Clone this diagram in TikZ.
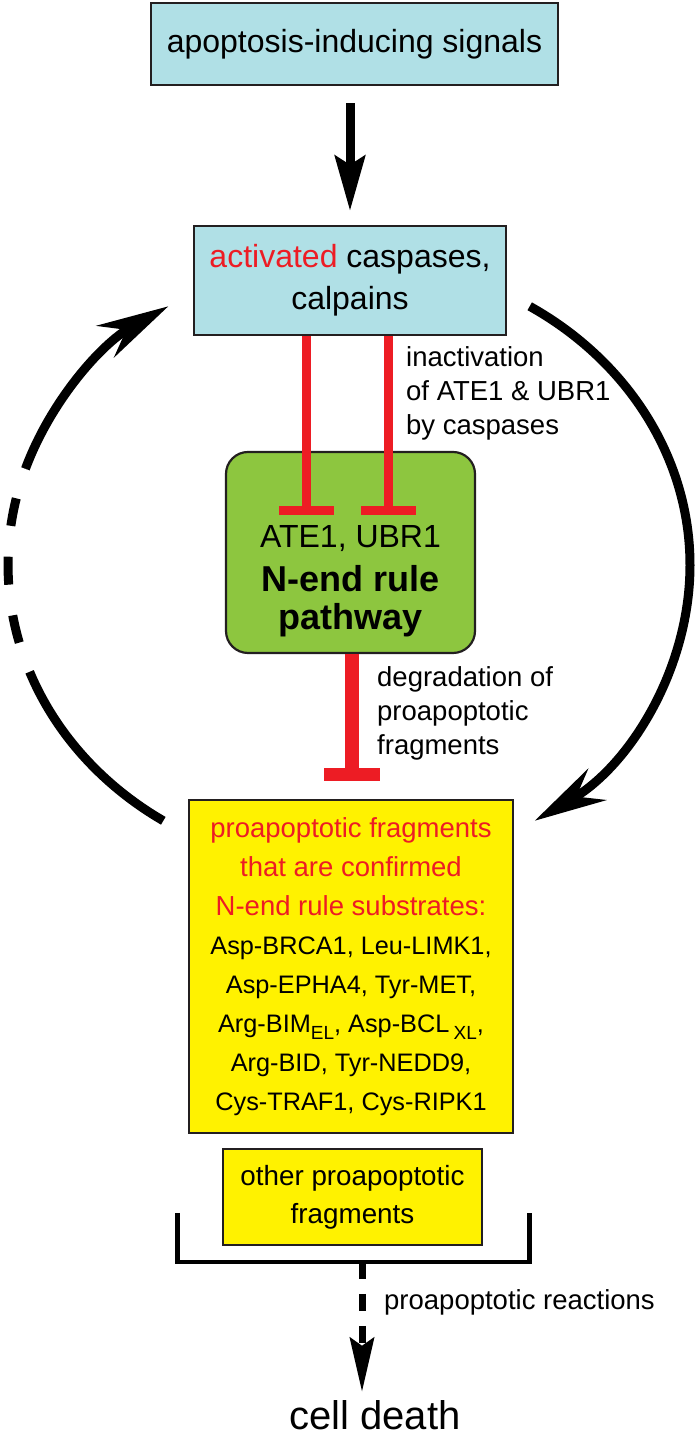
\documentclass[tikz,border=0pt]{standalone}
\usepackage{fontspec}
\setmainfont{Liberation Sans}
\usetikzlibrary{arrows.meta}

\definecolor{boxblue}{RGB}{176,224,230}
\definecolor{nendgreen}{RGB}{141,198,63}
\definecolor{fragyellow}{RGB}{255,242,0}
\definecolor{inhibred}{RGB}{237,28,36}
\definecolor{edgegray}{RGB}{35,31,32}

\newcommand{\boxtxt}{\fontsize{32}{42}\selectfont}
\newcommand{\labtxt}{\fontsize{27.5}{34}\selectfont}
\newcommand{\listtxt}{\fontsize{25.3}{39}\selectfont}
\newcommand{\redtxt}{\fontsize{27.5}{39}\selectfont}
\newcommand{\nendtxt}{\fontsize{36}{38}\selectfont\bfseries}
\newcommand{\subtxt}[1]{\raisebox{-0.3em}{\fontsize{19}{19}\selectfont #1}}

\tikzset{
  bluebox/.style={draw=edgegray, line width=2.2pt, fill=boxblue, inner sep=0pt, align=center, font=\boxtxt},
  greenbox/.style={draw=edgegray, line width=2.2pt, fill=nendgreen, rounded corners=22pt, inner sep=0pt},
  yellowbox/.style={draw=edgegray, line width=2.2pt, fill=fragyellow, inner sep=0pt, align=center},
  bigarrow/.style={line width=9pt, -{Stealth[length=55pt, width=30pt, inset=9pt]}},
  cycleline/.style={line width=9pt},
  cyclearrow/.style={line width=9pt, -{Stealth[length=72pt, width=36pt, inset=24pt]}},
  inhibline/.style={draw=inhibred, line width=9pt},
  inhibbar/.style={draw=inhibred, line width=9pt},
  bracketline/.style={line width=4.5pt},
  dasharrow/.style={line width=7pt, dash pattern=on 17pt off 15pt, -{Stealth[length=54pt, width=24pt, inset=8pt]}}
}

\begin{document}
\begin{tikzpicture}[x=1pt, y=1pt]
    \useasboundingbox (0,0) rectangle (697,1437);

    % Caixas
    \node[bluebox, minimum width=407, minimum height=82] (signals) at (354.5,1393) {apoptosis-inducing signals};
    \node[bluebox, minimum width=312, minimum height=109] (caspases) at (350,1156.5) {\textcolor{inhibred}{activated} caspases,\\calpains};
    \node[greenbox, minimum width=249, minimum height=201] (nend) at (350.5,884.5) {};
    \node[font=\nendtxt, align=center] (nendtext) at (350.5,856) {{\mdseries\boxtxt ATE1, UBR1}\\[6pt]N-end rule\\pathway};
    \node[yellowbox, minimum width=324, minimum height=333, font=\listtxt] (substrates) at (351,470.5) {
        \textcolor{inhibred}{\redtxt proapoptotic fragments}\\
        \textcolor{inhibred}{\redtxt that are confirmed}\\
        \textcolor{inhibred}{\redtxt N-end rule substrates:}\\
        Asp-BRCA1, Leu-LIMK1,\\
        Asp-EPHA4, Tyr-MET,\\
        Arg-BIM\subtxt{EL}, Asp-BCL\,\subtxt{XL},\\
        Arg-BID, Tyr-NEDD9,\\
        Cys-TRAF1, Cys-RIPK1
    };
    \node[yellowbox, minimum width=259, minimum height=96, font={\fontsize{27.8}{38}\selectfont}] (others) at (352.5,240) {other proapoptotic\\fragments};
    \node[font={\fontsize{40}{48}\selectfont}, anchor=base, inner sep=0pt] (death) at (375,7) {cell death};

    % Legendas
    \node[font=\labtxt, align=left, anchor=west, inner sep=0pt] (inactlabel) at (406,1044) {inactivation\\of ATE1 \& UBR1\\by caspases};
    \node[font=\labtxt, align=left, anchor=west, inner sep=0pt] (degrlabel) at (377,724) {degradation of\\proapoptotic\\fragments};
    \node[font=\labtxt, anchor=west, inner sep=0pt] (reactlabel) at (384,135) {proapoptotic reactions};

    % Sinais -> caspases
    \draw[bigarrow, shorten <=17pt, shorten >=14pt] (caspases.north |- signals.south) -- (caspases.north);

    % Inibicao
    \coordinate (ateBar) at (306.5,926);
    \coordinate (ubrBar) at (388.5,926);
    \coordinate (fragBar) at (352,662);
    \draw[inhibline] (caspases.south -| ateBar) -- (ateBar);
    \draw[inhibline] (caspases.south -| ubrBar) -- (ubrBar);
    \draw[inhibbar] ([xshift=-27.5pt]ateBar) -- ([xshift=27.5pt]ateBar);
    \draw[inhibbar] ([xshift=-27.5pt]ubrBar) -- ([xshift=27.5pt]ubrBar);
    \draw[inhibline, line width=14pt] (nend.south -| fragBar) -- (fragBar);
    \draw[inhibbar, line width=13pt] ([xshift=-28pt]fragBar) -- ([xshift=28pt]fragBar);

    % Ciclo
    \coordinate (cycleR) at (529.7,1130.7);
    \draw[cyclearrow] (cycleR) arc[start angle=58, end angle=-57, x radius=341pt, y radius=305pt];
    \coordinate (cycleL) at (163.3,616.2);
    \draw[cycleline] (cycleL) arc[start angle=237, end angle=200.5, x radius=341pt, y radius=305pt] coordinate (cycleLa);
    \draw[cycleline, dash pattern=on 28pt off 31pt, dash phase=28pt] (cycleLa) arc[start angle=200.5, end angle=161.6, x radius=341pt, y radius=305pt] coordinate (cycleLb);
    \draw[cyclearrow] (cycleLb) arc[start angle=161.6, end angle=122, x radius=341pt, y radius=305pt];

    % Colchete e morte celular
    \coordinate (brackL) at (177.5,224);
    \coordinate (brackR) at (529.5,224);
    \coordinate (brackMid) at (362,175);
    \draw[bracketline] (brackL) -- ++(0,-49) -| (brackR);
    \draw[dasharrow] (brackMid) -- ([yshift=9pt]brackMid |- death.north);
\end{tikzpicture}
\end{document}
